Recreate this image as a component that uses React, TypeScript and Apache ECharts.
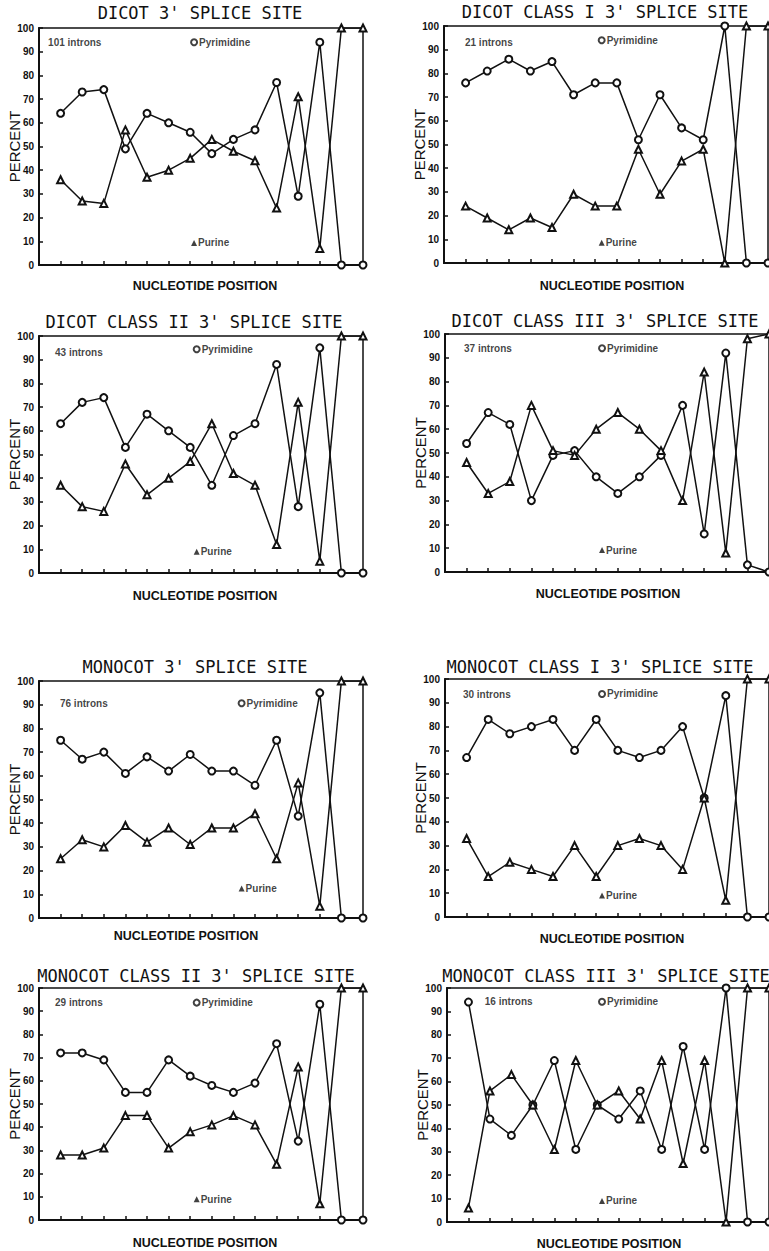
import React, { useEffect, useRef } from "react";
import * as echarts from "echarts";

// Nucleotide positions (1..15) across the 3' splice site
const positions = [1, 2, 3, 4, 5, 6, 7, 8, 9, 10, 11, 12, 13, 14, 15];
const yTicks = [0, 10, 20, 30, 40, 50, 60, 70, 80, 90, 100];

// DICOT 3' SPLICE SITE (101 introns)
const dicotPyr = [64, 73, 74, 49, 64, 60, 56, 47, 53, 57, 77, 29, 94, 0, 0];
const dicotPur = [36, 27, 26, 57, 37, 40, 45, 53, 48, 44, 24, 71, 7, 100, 100];
// DICOT CLASS I (21 introns)
const dicot1Pyr = [76, 81, 86, 81, 85, 71, 76, 76, 52, 71, 57, 52, 100, 0, 0];
const dicot1Pur = [24, 19, 14, 19, 15, 29, 24, 24, 48, 29, 43, 48, 0, 100, 100];
// DICOT CLASS II (43 introns)
const dicot2Pyr = [63, 72, 74, 53, 67, 60, 53, 37, 58, 63, 88, 28, 95, 0, 0];
const dicot2Pur = [37, 28, 26, 46, 33, 40, 47, 63, 42, 37, 12, 72, 5, 100, 100];
// DICOT CLASS III (37 introns)
const dicot3Pyr = [54, 67, 62, 30, 49, 51, 40, 33, 40, 49, 70, 16, 92, 3, 0];
const dicot3Pur = [46, 33, 38, 70, 51, 49, 60, 67, 60, 51, 30, 84, 8, 98, 100];
// MONOCOT 3' SPLICE SITE (76 introns)
const monoPyr = [75, 67, 70, 61, 68, 62, 69, 62, 62, 56, 75, 43, 95, 0, 0];
const monoPur = [25, 33, 30, 39, 32, 38, 31, 38, 38, 44, 25, 57, 5, 100, 100];
// MONOCOT CLASS I (30 introns)
const mono1Pyr = [67, 83, 77, 80, 83, 70, 83, 70, 67, 70, 80, 50, 93, 0, 0];
const mono1Pur = [33, 17, 23, 20, 17, 30, 17, 30, 33, 30, 20, 50, 7, 100, 100];
// MONOCOT CLASS II (29 introns)
const mono2Pyr = [72, 72, 69, 55, 55, 69, 62, 58, 55, 59, 76, 34, 93, 0, 0];
const mono2Pur = [28, 28, 31, 45, 45, 31, 38, 41, 45, 41, 24, 66, 7, 100, 100];
// MONOCOT CLASS III (16 introns)
const mono3Pyr = [94, 44, 37, 50, 69, 31, 50, 44, 56, 31, 75, 31, 100, 0, 0];
const mono3Pur = [6, 56, 63, 50, 31, 69, 50, 56, 44, 69, 25, 69, 0, 100, 100];

const titles = [
  "DICOT 3' SPLICE SITE",
  "DICOT CLASS I 3' SPLICE SITE",
  "DICOT CLASS II 3' SPLICE SITE",
  "DICOT CLASS III 3' SPLICE SITE",
  "MONOCOT 3' SPLICE SITE",
  "MONOCOT CLASS I 3' SPLICE SITE",
  "MONOCOT CLASS II 3' SPLICE SITE",
  "MONOCOT CLASS III 3' SPLICE SITE",
];
const intronLabels = [
  "101 introns",
  "21 introns",
  "43 introns",
  "37 introns",
  "76 introns",
  "30 introns",
  "29 introns",
  "16 introns",
];
const pyrSeries = [dicotPyr, dicot1Pyr, dicot2Pyr, dicot3Pyr, monoPyr, mono1Pyr, mono2Pyr, mono3Pyr];
const purSeries = [dicotPur, dicot1Pur, dicot2Pur, dicot3Pur, monoPur, mono1Pur, mono2Pur, mono3Pur];

// Layout (pixels) and annotation anchors (in data coordinates) for each panel
const layout = [
  { left: 39, top: 28, h: 237, tx: 200, ty: 13, gap: 14, shift: 4, intr: [0.42, 94], pyr: [7.18, 94], pur: [7.18, 9.3] },
  { left: 444, top: 26, h: 237, tx: 605, ty: 12, gap: 16, shift: 6, intr: [0.97, 93], pyr: [7.3, 94], pur: [7.3, 8.5] },
  { left: 39, top: 336, h: 237, tx: 194, ty: 322, gap: 16, shift: 4, intr: [0.74, 93], pyr: [7.3, 94.4], pur: [7.3, 9] },
  { left: 445, top: 334, h: 238, tx: 605, ty: 321, gap: 15, shift: 1, intr: [0.88, 94], pyr: [7.27, 94], pur: [7.27, 9.2] },
  { left: 39, top: 681, h: 237, tx: 195, ty: 667, gap: 11, shift: -15, intr: [0.97, 90.6], pyr: [9.38, 90.6], pur: [9.38, 12.5] },
  { left: 445, top: 679, h: 238, tx: 600, ty: 667, gap: 15, shift: 5, intr: [0.83, 93.6], pyr: [7.27, 93.7], pur: [7.27, 9] },
  { left: 39, top: 988, h: 232, tx: 196, ty: 976, gap: 16, shift: 4, intr: [0.74, 93.7], pyr: [7.3, 93.7], pur: [7.3, 8.9] },
  { left: 447, top: 988, h: 234, tx: 606, ty: 976, gap: 15, shift: 1, intr: [1.76, 94.1], pyr: [7.22, 94.1], pur: [7.22, 9] },
];

const INK = "#111";
const SANS = '"Liberation Sans", Arial, sans-serif';

export default function App() {
  const ref = useRef<HTMLDivElement>(null);

  useEffect(() => {
    if (!ref.current) return;
    const chart = echarts.init(ref.current, undefined, { renderer: "svg" });

    const grid: any[] = [];
    const xAxis: any[] = [];
    const yAxis: any[] = [];
    const series: any[] = [];
    const title: any[] = [];

    layout.forEach((p, i) => {
      grid.push({
        left: p.left,
        top: p.top,
        width: 324,
        height: p.h,
        show: true,
        borderColor: INK,
        borderWidth: 1.5,
        backgroundColor: "transparent",
      });
      title.push({
        text: titles[i],
        left: p.tx,
        top: p.ty - 9,
        textAlign: "center",
        padding: 0,
        textStyle: { fontFamily: '"DejaVu Sans Mono", monospace', fontSize: 17, fontWeight: "normal", color: INK },
      });
      xAxis.push({
        type: "value",
        gridIndex: i,
        min: 0,
        max: 15,
        interval: 1,
        name: "NUCLEOTIDE POSITION",
        nameLocation: "middle",
        nameGap: p.gap,
        nameMoveOverlap: false,
        nameTextStyle: {
          fontFamily: SANS,
          fontWeight: "bold",
          fontSize: 12.5,
          color: INK,
          padding: p.shift >= 0 ? [0, 0, 0, p.shift * 2] : [0, -p.shift * 2, 0, 0],
        },
        axisLine: { show: true, lineStyle: { color: INK, width: 2 } },
        axisTick: { show: true, inside: true, length: 4, lineStyle: { color: INK, width: 1.5 } },
        axisLabel: { show: false },
        splitLine: { show: false },
      });
      yAxis.push({
        type: "value",
        gridIndex: i,
        min: yTicks[0],
        max: yTicks[yTicks.length - 1],
        interval: 10,
        name: "PERCENT",
        nameLocation: "middle",
        nameGap: 17,
        nameMoveOverlap: false,
        nameTextStyle: { fontFamily: SANS, fontSize: 15, color: INK },
        axisLine: { show: true, lineStyle: { color: INK, width: 2 } },
        axisTick: { show: true, inside: true, length: 4, lineStyle: { color: INK, width: 1.5 } },
        axisLabel: { margin: 5, fontFamily: SANS, fontSize: 10, fontWeight: "bold", color: INK },
        splitLine: { show: false },
      });
      series.push({
        name: "Pyrimidine",
        type: "line",
        xAxisIndex: i,
        yAxisIndex: i,
        data: positions.map((x, k) => [x, pyrSeries[i][k]]),
        symbol: "emptyCircle",
        symbolSize: 7,
        lineStyle: { color: INK, width: 1.5 },
        itemStyle: { color: INK, borderWidth: 1.5 },
        z: 3,
      });
      series.push({
        name: "Purine",
        type: "line",
        xAxisIndex: i,
        yAxisIndex: i,
        data: positions.map((x, k) => [x, purSeries[i][k]]),
        symbol: "emptyTriangle",
        symbolSize: 7,
        lineStyle: { color: INK, width: 1.5 },
        itemStyle: { color: INK, borderWidth: 1.5 },
        z: 3,
      });
      const lbl = { fontFamily: SANS, fontSize: 10, fontWeight: "bold", color: INK };
      series.push({
        type: "scatter",
        xAxisIndex: i,
        yAxisIndex: i,
        silent: true,
        z: 4,
        data: [
          {
            value: p.intr,
            symbol: "circle",
            symbolSize: 0,
            label: { show: true, position: "right", distance: 0, formatter: intronLabels[i], ...lbl },
          },
          {
            value: p.pyr,
            symbol: "emptyCircle",
            symbolSize: 6,
            itemStyle: { color: INK, borderWidth: 1.5 },
            label: { show: true, position: "right", distance: 1, formatter: "Pyrimidine", ...lbl },
          },
          {
            value: p.pur,
            symbol: "triangle",
            symbolSize: 6,
            itemStyle: { color: INK },
            label: { show: true, position: "right", distance: 1, formatter: "Purine", ...lbl },
          },
        ],
      });
    });

    chart.setOption({
      animation: false,
      backgroundColor: "#fff",
      title,
      grid,
      xAxis,
      yAxis,
      series,
    });

    return () => chart.dispose();
  }, []);

  return (
    <div
      ref={ref}
      style={{ position: "absolute", left: 0, top: 0, width: 769, height: 1251, background: "#fff" }}
    />
  );
}
